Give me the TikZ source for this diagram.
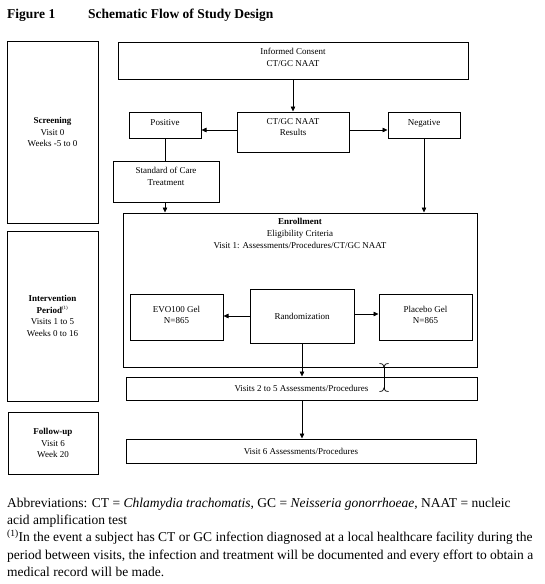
\documentclass[tikz,border=0pt]{standalone}
\usepackage{fontspec}
\setmainfont{Liberation Serif}
\usetikzlibrary{arrows.meta,calc}
\begin{document}
\begin{tikzpicture}[x=1pt,y=-1pt,
  box/.style={draw,line width=1pt,inner sep=1pt,align=center,font=\fontsize{9}{11.7}\selectfont},
  txt/.style={inner sep=0pt,align=center,font=\fontsize{9}{11.7}\selectfont},
  arr/.style={line width=0.7pt,-{Triangle[length=5pt,width=4.5pt]}},
  ln/.style={line width=0.7pt}]
\useasboundingbox (0,0) rectangle (544,584);
% title
\node[anchor=base west,inner sep=0pt,font=\fontsize{13.5}{16}\selectfont\bfseries] (fig) at (7,18) {Figure 1};
\node[anchor=base west,inner sep=0pt,font=\fontsize{13.5}{16}\selectfont\bfseries] (title) at (88,18) {Schematic Flow of Study Design};
% left column
\node[box,minimum width=91,minimum height=182] (screen) at (52.5,132) {\textbf{Screening}\\Visit 0\\Weeks -5 to 0};
\node[box,minimum width=91,minimum height=170] (inter) at (52.5,316) {\textbf{Intervention}\\\textbf{Period}\textsuperscript{\fontsize{5}{5}\selectfont(1)}\\Visits 1 to 5\\Weeks 0 to 16};
\node[box,minimum width=90,minimum height=62] (follow) at (53,443) {\textbf{Follow-up}\\Visit 6\\Week 20};
% flow
\node[box,minimum width=350,minimum height=37,text depth=6pt] (ic) at (293,60.5) {Informed Consent\\CT/GC NAAT};
\node[box,minimum width=72,minimum height=26,text depth=4pt] (pos) at (165,125) {Positive};
\node[box,minimum width=112,minimum height=40,text depth=10pt] (ctgc) at (293,132) {CT/GC NAAT\\Results};
\node[box,minimum width=72,minimum height=26,text depth=4pt] (neg) at (424,125) {Negative};
\node[box,minimum width=106,minimum height=41,text depth=10pt] (soc) at (166,181.5) {Standard of Care\\Treatment};
\node[box,minimum width=354,minimum height=154] (enroll) at (300,290) {};
\node[txt,anchor=north] (enrolltxt) at (300,218.5) {\textbf{Enrollment}\\Eligibility Criteria\\Visit 1: Assessments/Procedures/CT/GC NAAT};
\node[box,minimum width=93,minimum height=46,text depth=4pt] (evo) at (176.5,317) {EVO100 Gel\\N=865};
\node[box,minimum width=104,minimum height=54] (rand) at (302,316) {Randomization};
\node[box,minimum width=93,minimum height=46,text depth=4pt] (plac) at (425.5,317) {Placebo Gel\\N=865};
\node[box,minimum width=351,minimum height=23] (v25) at (301.5,388.5) {Visits 2 to 5 Assessments/Procedures};
\node[box,minimum width=350,minimum height=24] (v6) at (301,451) {Visit 6 Assessments/Procedures};
% connectors
\draw[arr] (ic.south -| ctgc.north) -- (ctgc.north);
\draw[arr] ([yshift=2pt]ctgc.west) -- ([yshift=2pt]ctgc.west -| pos.east);
\draw[arr] ([yshift=2pt]ctgc.east) -- ([yshift=2pt]ctgc.east -| neg.west);
\draw[ln] (pos.south) -- (pos.south |- soc.north);
\draw[arr] (pos.south |- soc.south) -- (pos.south |- enroll.north);
\draw[arr] (neg.south) -- (neg.south |- enroll.north);
\draw[arr] (rand.west) -- (rand.west -| evo.east);
\draw[arr] ([yshift=2pt]rand.east) -- ([yshift=2pt]rand.east -| plac.west);
\draw[arr] (rand.south) -- (rand.south |- v25.north);
\draw[arr] (v25.south -| rand.south) -- (v6.north -| rand.south);
% I-beam cursor artifact
\draw[line width=0.8pt] (384,366.5) -- (384,388.5);
\draw[line width=0.7pt] (379.5,363.5) .. controls (383,364) .. (384,367) .. controls (385,364) .. (388.5,363.5);
\draw[line width=0.7pt] (379.5,391.5) .. controls (383,391) .. (384,388) .. controls (385,391) .. (388.5,391.5);
% footnote
\node[anchor=north west,inner sep=0pt,align=left,font=\fontsize{13.5}{17.2}\selectfont] (foot) at (7,498) {Abbreviations: CT = \textit{Chlamydia trachomatis}, GC = \textit{Neisseria gonorrhoeae}, NAAT = nucleic\\
acid amplification test\\
\textsuperscript{(1)}In the event a subject has CT or GC infection diagnosed at a local healthcare facility during the\\
period between visits, the infection and treatment will be documented and every effort to obtain a\\
medical record will be made.};
\end{tikzpicture}
\end{document}
